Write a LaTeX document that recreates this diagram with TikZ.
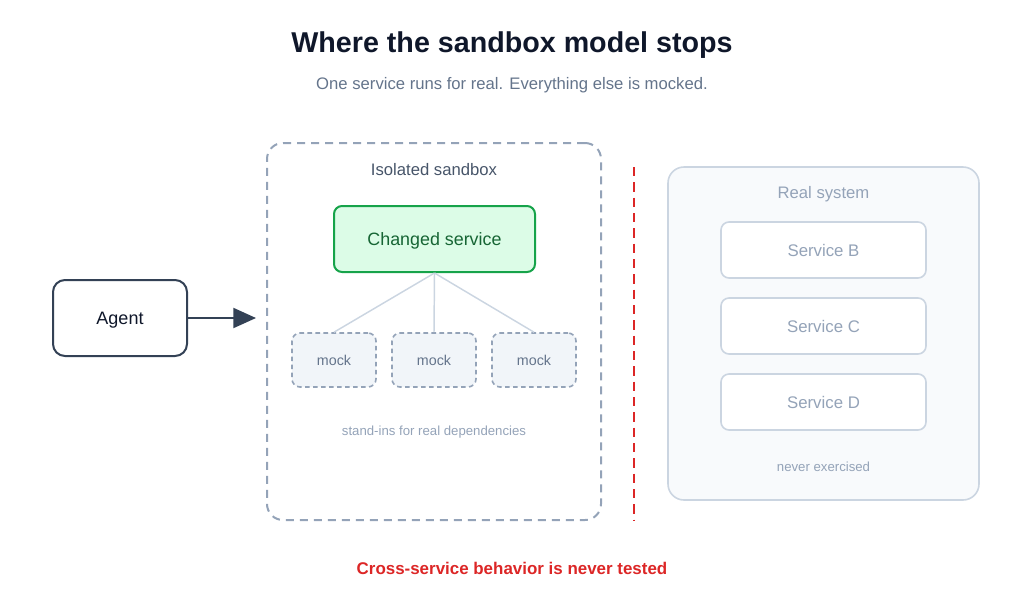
\documentclass[tikz,border=0pt]{standalone}
\usepackage{fontspec}
\setmainfont{Liberation Sans}
\usetikzlibrary{arrows.meta,positioning}
\definecolor{inkdark}{HTML}{0F172A}
\definecolor{slatetx}{HTML}{64748B}
\definecolor{slatemid}{HTML}{475569}
\definecolor{slatebd}{HTML}{94A3B8}
\definecolor{slatelt}{HTML}{CBD5E1}
\definecolor{slatefill}{HTML}{F1F5F9}
\definecolor{realfill}{HTML}{F8FAFC}
\definecolor{agentbd}{HTML}{334155}
\definecolor{chgbd}{HTML}{16A34A}
\definecolor{chgfill}{HTML}{DCFCE7}
\definecolor{chgtx}{HTML}{166534}
\definecolor{warnred}{HTML}{DC2626}
\tikzset{
  ttl/.style={font=\fontsize{21.5}{24}\selectfont\bfseries, text=inkdark},
  subttl/.style={font=\fontsize{12.5}{15}\selectfont, text=slatetx},
  sandbox/.style={draw=slatebd, line width=1.5pt, dash pattern=on 6pt off 4.5pt,
                  rounded corners=12pt, minimum width=250.5pt, minimum height=282.75pt},
  boxcap/.style={font=\fontsize{12.5}{15}\selectfont, text=slatemid},
  chgbox/.style={draw=chgbd, fill=chgfill, line width=1.5pt, rounded corners=6pt,
                 minimum width=150.75pt, minimum height=49.5pt, text depth=0pt,
                 font=\fontsize{13.4}{16}\selectfont, text=chgtx},
  mockbox/.style={draw=slatebd, fill=slatefill, line width=1.2pt, dash pattern=on 3.5pt off 2.5pt,
                  rounded corners=6pt, minimum width=63pt, minimum height=40.5pt,
                  font=\fontsize{10.7}{13}\selectfont, text=slatetx},
  agentbox/.style={draw=agentbd, fill=white, line width=1.5pt, rounded corners=9pt,
                   minimum width=100.5pt, minimum height=57pt, text depth=0pt,
                   font=\fontsize{13.5}{16}\selectfont, text=inkdark},
  realbox/.style={draw=slatelt, fill=realfill, line width=1.2pt, rounded corners=12pt,
                  minimum width=233.25pt, minimum height=249.75pt},
  svcbox/.style={draw=slatelt, fill=white, line width=1.2pt, rounded corners=6pt,
                 minimum width=153.75pt, minimum height=42pt,
                 font=\fontsize{12.6}{15}\selectfont, text=slatebd},
  note/.style={font=\fontsize{9.9}{12}\selectfont, text=slatebd},
  dep/.style={slatelt, line width=1.1pt},
  push/.style={-{Triangle[length=17pt, width=15pt]}, agentbd, line width=1.5pt},
  cut/.style={warnred, line width=1.5pt, dash pattern=on 7pt off 4.5pt},
  warn/.style={font=\fontsize{12.7}{15}\selectfont\bfseries, text=warnred},
}

\begin{document}
\begin{tikzpicture}[x=0.75pt, y=-0.75pt]
  \useasboundingbox (0,0) rectangle (1024,601);
  % heading
  \node[ttl] (title) at (512,45) {Where the sandbox model stops};
  \node[subttl] (subtitle) at (512,85) {One service runs for real. Everything else is mocked.};
  % sandbox side
  \node[sandbox] (sbox) at (434,331.5) {};
  \node[boxcap] (sboxcap) at (434,170) {Isolated sandbox};
  \node[chgbox] (chg) at (434.5,239) {Changed service};
  \node[mockbox] (mock1) at (334,360) {mock};
  \node[mockbox] (mock2) at (434,360) {mock};
  \node[mockbox] (mock3) at (534,360) {mock};
  \foreach \m in {mock1,mock2,mock3}
    \draw[dep] (chg.south) -- (\m.north);
  \node[note] (standins) at (434,432) {stand-ins for real dependencies};
  % agent
  \node[agentbox] (agent) at (120,318) {Agent};
  \draw[push, shorten >=7.5pt] (agent.east) -- (agent.east -| sbox.west);
  % boundary
  \coordinate (cuttop) at (634,167);
  \coordinate (cutbot) at (634,520);
  \draw[cut] (cuttop) -- (cutbot);
  % real system side
  \node[realbox] (realsys) at (823.5,333.5) {};
  \node[boxcap, text=slatebd] (realcap) at (823.5,194) {Real system};
  \node[svcbox] (svcb) at (823.5,250) {Service B};
  \node[svcbox] (svcc) at (823.5,326) {Service C};
  \node[svcbox] (svcd) at (823.5,402) {Service D};
  \node[note] (never) at (823.5,467) {never exercised};
  % verdict
  \node[warn] (verdict) at (512,568) {Cross-service behavior is never tested};
\end{tikzpicture}
\end{document}
